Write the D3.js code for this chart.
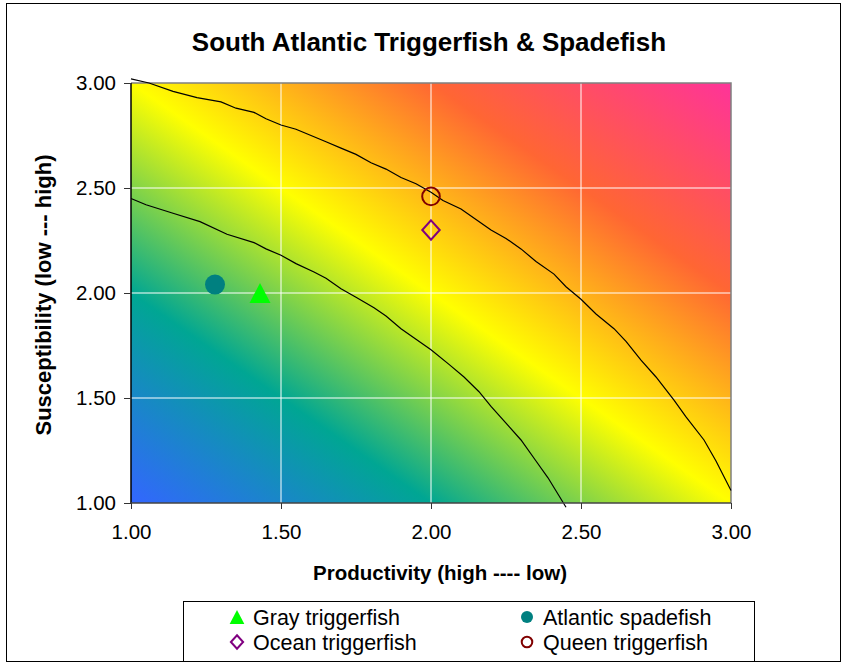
<!DOCTYPE html>
<html>
<head>
<meta charset="utf-8">
<script src="https://cdn.jsdelivr.net/npm/d3@7"></script>
<style>
  html, body { margin: 0; padding: 0; background: #fff; }
  svg { display: block; font-family: "Liberation Sans", Arial, sans-serif; }
</style>
</head>
<body>
<svg id="chart" width="846" height="667"></svg>
<script>
// ---------- data ----------
const title = "South Atlantic Triggerfish & Spadefish";
const xTitle = "Productivity (high ---- low)";
const yTitle = "Susceptibility (low --- high)";
const tickValues = [1.00, 1.50, 2.00, 2.50, 3.00];

const species = ["Gray triggerfish", "Atlantic spadefish", "Ocean triggerfish", "Queen triggerfish"];
const productivity = [1.43, 1.28, 2.00, 2.00];
const susceptibility = [2.00, 2.04, 2.30, 2.46];

const outerP = [1.00, 1.06, 1.14, 1.22, 1.30, 1.35, 1.41, 1.45, 1.50, 1.55, 1.60, 1.65, 1.70, 1.75, 1.80, 1.85, 1.90, 1.95, 2.00, 2.04, 2.10, 2.15, 2.20, 2.25, 2.30, 2.35, 2.41, 2.45, 2.50, 2.55, 2.61, 2.65, 2.70, 2.75, 2.81, 2.85, 2.91, 2.95, 3.00];
const outerS = [3.02, 3.00, 2.96, 2.93, 2.91, 2.88, 2.86, 2.83, 2.80, 2.78, 2.75, 2.72, 2.69, 2.66, 2.62, 2.59, 2.55, 2.52, 2.48, 2.44, 2.40, 2.35, 2.30, 2.26, 2.21, 2.15, 2.09, 2.03, 1.97, 1.90, 1.83, 1.77, 1.68, 1.60, 1.49, 1.41, 1.30, 1.20, 1.06];

const innerP = [1.00, 1.05, 1.14, 1.23, 1.32, 1.41, 1.45, 1.50, 1.55, 1.61, 1.65, 1.70, 1.75, 1.81, 1.85, 1.90, 1.95, 2.00, 2.06, 2.11, 2.16, 2.20, 2.25, 2.30, 2.35, 2.39, 2.42, 2.45];
const innerS = [2.45, 2.42, 2.38, 2.34, 2.28, 2.24, 2.21, 2.18, 2.14, 2.10, 2.07, 2.02, 1.98, 1.93, 1.89, 1.83, 1.78, 1.73, 1.66, 1.60, 1.53, 1.46, 1.38, 1.30, 1.20, 1.12, 1.05, 0.98];

const gradStops = [0, 0.25, 0.5, 0.75, 1];
const gradColors = ["#3366ff", "#00a693", "#ffff00", "#ff6633", "#ff3399"];

const markerShape = ["triangle", "circle", "diamond", "ocircle"];
const markerColor = ["#00ff00", "#008080", "#800080", "#800000"];

// ---------- layout ----------
const svg = d3.select("#chart");
const L = 131, R = 731, T = 83, B = 503;
const x = d3.scaleLinear().domain([1, 3]).range([L, R]);
const y = d3.scaleLinear().domain([1, 3]).range([B, T]);

// outer frame
svg.append("rect").attr("x", 6.5).attr("y", 3.5).attr("width", 834).attr("height", 658)
  .attr("fill", "#fff").attr("stroke", "#000").attr("stroke-width", 1);

// gradient
const defs = svg.append("defs");
const lg = defs.append("linearGradient").attr("id", "bg")
  .attr("x1", 0).attr("y1", 1).attr("x2", 1).attr("y2", 0);
lg.selectAll("stop").data(gradStops).join("stop")
  .attr("offset", d => d).attr("stop-color", (d, i) => gradColors[i]);

svg.append("rect").attr("x", L).attr("y", T).attr("width", R - L).attr("height", B - T)
  .attr("fill", "url(#bg)");

// gridlines
const gridVals = tickValues.slice(1, -1);
svg.append("g").selectAll("line").data(gridVals).join("line")
  .attr("x1", d => x(d)).attr("x2", d => x(d)).attr("y1", T).attr("y2", B)
  .attr("stroke", "#fff").attr("stroke-width", 1);
svg.append("g").selectAll("line").data(gridVals).join("line")
  .attr("y1", d => y(d)).attr("y2", d => y(d)).attr("x1", L).attr("x2", R)
  .attr("stroke", "#fff").attr("stroke-width", 1);

// plot border (top/right gray)
svg.append("path").attr("d", `M${L},${T}H${R}V${B}`).attr("fill", "none")
  .attr("stroke", "#808080").attr("stroke-width", 1.5);

// curves
const line = d3.line().x(d => x(d[0])).y(d => y(d[1]));
svg.append("path").datum(outerP.map((p, i) => [p, outerS[i]]))
  .attr("d", line).attr("fill", "none").attr("stroke", "#000").attr("stroke-width", 1.2);
svg.append("path").datum(innerP.map((p, i) => [p, innerS[i]]))
  .attr("d", line).attr("fill", "none").attr("stroke", "#000").attr("stroke-width", 1.2);

// axes
const fmt = d3.format(".2f");
const yAxis = svg.append("g").attr("transform", `translate(${L},0)`)
  .call(d3.axisLeft(y).tickValues(tickValues).tickFormat(fmt).tickSize(7).tickPadding(8));
const xAxis = svg.append("g").attr("transform", `translate(0,${B})`)
  .call(d3.axisBottom(x).tickValues(tickValues).tickFormat(fmt).tickSize(6).tickPadding(15));
[yAxis, xAxis].forEach(a => {
  a.selectAll("text").attr("font-size", 20.5).attr("fill", "#000")
    .attr("font-family", "'Liberation Sans', Arial, sans-serif");
  a.selectAll("line").attr("stroke", "#333");
});
yAxis.select(".domain").attr("stroke", "#000").attr("stroke-width", 1.5).attr("d", `M0,${T}V${B}`);
xAxis.select(".domain").attr("stroke", "#444").attr("stroke-width", 1.5).attr("d", `M${L},0H${R}`);

// markers
function markerPath(shape, cx, cy, s) {
  if (shape === "triangle") {
    return `M${cx},${cy - s * 1.0}L${cx + s * 1.05},${cy + s * 1.0}L${cx - s * 1.05},${cy + s * 1.0}Z`;
  }
  if (shape === "diamond") {
    return `M${cx},${cy - s * 1.05}L${cx + s * 0.95},${cy}L${cx},${cy + s * 1.05}L${cx - s * 0.95},${cy}Z`;
  }
  return null;
}
function drawMarker(g, shape, color, cx, cy, s) {
  if (shape === "circle") {
    g.append("circle").attr("cx", cx).attr("cy", cy).attr("r", s).attr("fill", color);
  } else if (shape === "ocircle") {
    g.append("circle").attr("cx", cx).attr("cy", cy).attr("r", s * 0.88).attr("fill", "none")
      .attr("stroke", color).attr("stroke-width", 2);
  } else if (shape === "triangle") {
    g.append("path").attr("d", markerPath(shape, cx, cy, s)).attr("fill", color);
  } else {
    g.append("path").attr("d", markerPath(shape, cx, cy, s * 0.92)).attr("fill", "none")
      .attr("stroke", color).attr("stroke-width", 2);
  }
}
const mg = svg.append("g");
species.forEach((sp, i) => {
  drawMarker(mg, markerShape[i], markerColor[i], x(productivity[i]), y(susceptibility[i]), 10);
});

// titles
svg.append("text").attr("x", 429).attr("y", 51).attr("text-anchor", "middle")
  .attr("font-size", 26).attr("font-weight", "bold").text(title);
svg.append("text").attr("x", 440).attr("y", 580).attr("text-anchor", "middle")
  .attr("font-size", 20.5).attr("font-weight", "bold").text(xTitle);
svg.append("text").attr("transform", "translate(51,295) rotate(-90)").attr("text-anchor", "middle")
  .attr("font-size", 22).attr("font-weight", "bold").text(yTitle);

// legend
const lgG = svg.append("g");
lgG.append("rect").attr("x", 183.5).attr("y", 601.5).attr("width", 571).attr("height", 60)
  .attr("fill", "#fff").attr("stroke", "#000").attr("stroke-width", 1);
const colX = [237, 527];
const rowY = [617, 642];
species.forEach((sp, i) => {
  const col = i % 2, row = Math.floor(i / 2);
  const cx = colX[col], cy = rowY[row];
  const s = markerShape[i] === "circle" ? 6 : (markerShape[i] === "ocircle" ? 6 : 7);
  drawMarker(lgG, markerShape[i], markerColor[i], cx, cy, s);
  lgG.append("text").attr("x", cx + 16).attr("y", cy + 7.5).attr("font-size", 21.5)
    .attr("fill", "#000").text(sp);
});
</script>
</body>
</html>
